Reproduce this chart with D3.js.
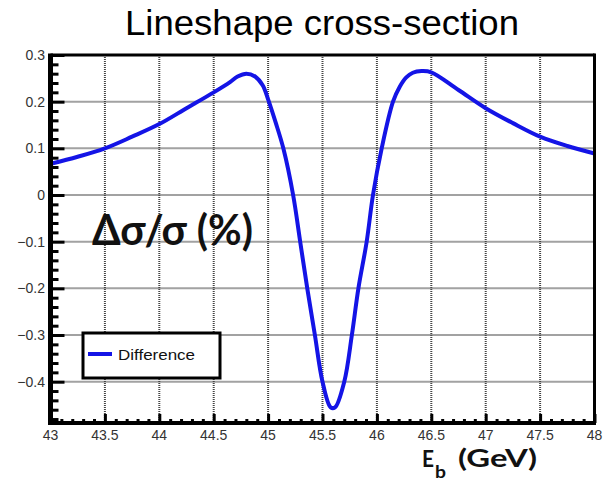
<!DOCTYPE html>
<html>
<head>
<meta charset="utf-8">
<script src="https://cdn.jsdelivr.net/npm/d3@7"></script>
<style>
  html, body { margin: 0; padding: 0; background: #fff; }
  svg { display: block; }
</style>
</head>
<body>
<svg id="chart" width="607" height="487"></svg>
<script>
// Beam energy (GeV) and relative cross-section difference (%)
const energy = [43, 43.25, 43.5, 43.75, 44, 44.25, 44.5, 44.65, 44.72, 44.8, 44.88, 44.95, 45.0, 45.07, 45.14,
  45.23, 45.295, 45.36, 45.43, 45.5, 45.575, 45.615, 45.7, 45.77, 45.83, 45.906, 45.964,
  46.044, 46.148, 46.21, 46.27, 46.33, 46.41, 46.5, 46.75, 47, 47.25, 47.5, 47.75, 48];
const difference = [0.067, 0.082, 0.1, 0.125, 0.152, 0.186, 0.22, 0.242, 0.254, 0.26, 0.254, 0.235, 0.205, 0.155, 0.1,
  0.0, -0.1, -0.2, -0.3, -0.4, -0.455, -0.455, -0.4, -0.3, -0.2, -0.1, 0.0,
  0.1, 0.2, 0.232, 0.252, 0.262, 0.2655, 0.263, 0.225, 0.186, 0.154, 0.125, 0.105, 0.089];

const xTicks = [43, 43.5, 44, 44.5, 45, 45.5, 46, 46.5, 47, 47.5, 48];
const yTicks = [0.3, 0.2, 0.1, 0, -0.1, -0.2, -0.3, -0.4];
const seriesName = "Difference";

const svg = d3.select("#chart");
const plotLeft = 50.5, plotRight = 594.5, plotTop = 55, plotBottom = 423;

const x = d3.scaleLinear().domain([43, 48]).range([plotLeft, plotRight]);
const y = d3.scaleLinear().domain([-0.4885, 0.3]).range([plotBottom, plotTop]);

// Title
svg.append("text")
  .attr("x", 322).attr("y", 35)
  .attr("text-anchor", "middle")
  .attr("font-family", "'Liberation Sans', Arial, sans-serif")
  .attr("font-size", 35)
  .attr("textLength", 394).attr("lengthAdjust", "spacingAndGlyphs")
  .text("Lineshape cross-section");

// Dotted grid
const grid = svg.append("g").attr("stroke", "#444").attr("stroke-width", 2)
  .attr("stroke-dasharray", "1,1");
grid.selectAll("line.v").data(xTicks.slice(1, -1)).join("line")
  .attr("x1", d => x(d)).attr("x2", d => x(d))
  .attr("y1", plotTop).attr("y2", plotBottom);
grid.selectAll("line.h").data(yTicks.slice(1)).join("line")
  .attr("x1", plotLeft).attr("x2", plotRight)
  .attr("y1", d => y(d)).attr("y2", d => y(d));

// Inner tick marks (major + minor)
const yMinor = d3.range(-48, 30, 2).map(v => v / 100).filter(v => Math.abs(Math.round(v * 10) - v * 10) > 1e-6);
const xMinor = d3.range(430, 480, 1).map(v => v / 10).filter(v => Math.abs(Math.round(v * 2) - v * 2) > 1e-6);

svg.append("g").attr("transform", `translate(${plotLeft},0)`)
  .call(d3.axisRight(y).tickValues(yTicks).tickSize(14).tickFormat(""));
svg.append("g").attr("transform", `translate(${plotLeft},0)`)
  .call(d3.axisRight(y).tickValues(yMinor).tickSize(8).tickFormat(""));
svg.append("g").attr("transform", `translate(0,${plotBottom})`)
  .call(d3.axisTop(x).tickValues(xTicks).tickSize(9).tickFormat(""));
svg.append("g").attr("transform", `translate(0,${plotBottom})`)
  .call(d3.axisTop(x).tickValues(xMinor).tickSize(4).tickFormat(""));
svg.selectAll(".domain").remove();
svg.selectAll(".tick line").attr("stroke", "#000").attr("stroke-width", 3);

// Tick labels
const fmtY = d => d === 0 ? "0" : (d < 0 ? "\u2212" + d3.format(".1f")(-d) : d3.format(".1f")(d));
svg.append("g").selectAll("text").data(yTicks).join("text")
  .attr("x", 45).attr("y", d => y(d) + 5)
  .attr("text-anchor", "end")
  .attr("font-family", "'Liberation Sans', Arial, sans-serif")
  .attr("font-size", 14).attr("fill", "#333")
  .text(fmtY);
svg.append("g").selectAll("text").data(xTicks).join("text")
  .attr("x", d => x(d)).attr("y", 440)
  .attr("text-anchor", "middle")
  .attr("font-family", "'Liberation Sans', Arial, sans-serif")
  .attr("font-size", 14).attr("fill", "#333")
  .text(d => String(d));

// Curve
const line = d3.line().x((d, i) => x(energy[i])).y(d => y(d)).curve(d3.curveCatmullRom.alpha(0.5));
svg.append("path")
  .attr("d", line(difference))
  .attr("fill", "none").attr("stroke", "#1414e6").attr("stroke-width", 4)
  .attr("stroke-linejoin", "round");

// Frame
svg.append("line").attr("x1", plotLeft).attr("x2", plotRight).attr("y1", plotTop).attr("y2", plotTop)
  .attr("stroke", "#000").attr("stroke-width", 3);
svg.append("line").attr("x1", plotRight).attr("x2", plotRight).attr("y1", plotTop - 1.5).attr("y2", plotBottom)
  .attr("stroke", "#000").attr("stroke-width", 3);
svg.append("line").attr("x1", plotLeft - 2.5).attr("x2", plotRight + 1.5).attr("y1", plotBottom).attr("y2", plotBottom)
  .attr("stroke", "#000").attr("stroke-width", 4);
svg.append("line").attr("x1", plotLeft).attr("x2", plotLeft).attr("y1", plotTop - 1.5).attr("y2", plotBottom + 2)
  .attr("stroke", "#000").attr("stroke-width", 5);

// Legend
const lg = svg.append("g");
lg.append("rect").attr("x", 83).attr("y", 333).attr("width", 137).attr("height", 45)
  .attr("fill", "#fff").attr("stroke", "#000").attr("stroke-width", 3);
lg.append("line").attr("x1", 88).attr("x2", 112).attr("y1", 354).attr("y2", 354)
  .attr("stroke", "#1414e6").attr("stroke-width", 4);
lg.append("text").attr("x", 118).attr("y", 360)
  .attr("font-family", "'Liberation Sans', Arial, sans-serif")
  .attr("font-size", 15).attr("fill", "#111")
  .attr("textLength", 77).attr("lengthAdjust", "spacingAndGlyphs")
  .text(seriesName);

// Axis labels
svg.append("text").attr("x", 92).attr("y", 245)
  .attr("font-family", "Lato, 'Open Sans', sans-serif").attr("font-weight", "bold")
  .attr("font-size", 42).attr("fill", "#111")
  .attr("textLength", 161).attr("lengthAdjust", "spacingAndGlyphs")
  .text("\u0394\u03c3/\u03c3 (%)");

const xl = svg.append("g").attr("font-family", "Lato, 'Open Sans', sans-serif")
  .attr("font-weight", "bold").attr("fill", "#111");
xl.append("text").attr("x", 422).attr("y", 467).attr("font-size", 23)
  .attr("textLength", 12).attr("lengthAdjust", "spacingAndGlyphs").text("E");
xl.append("text").attr("x", 435).attr("y", 478).attr("font-size", 17)
  .attr("textLength", 11).attr("lengthAdjust", "spacingAndGlyphs").text("b");
xl.append("text").attr("x", 458).attr("y", 467).attr("font-size", 24)
  .attr("textLength", 79).attr("lengthAdjust", "spacingAndGlyphs").text("(GeV)");
</script>
</body>
</html>
